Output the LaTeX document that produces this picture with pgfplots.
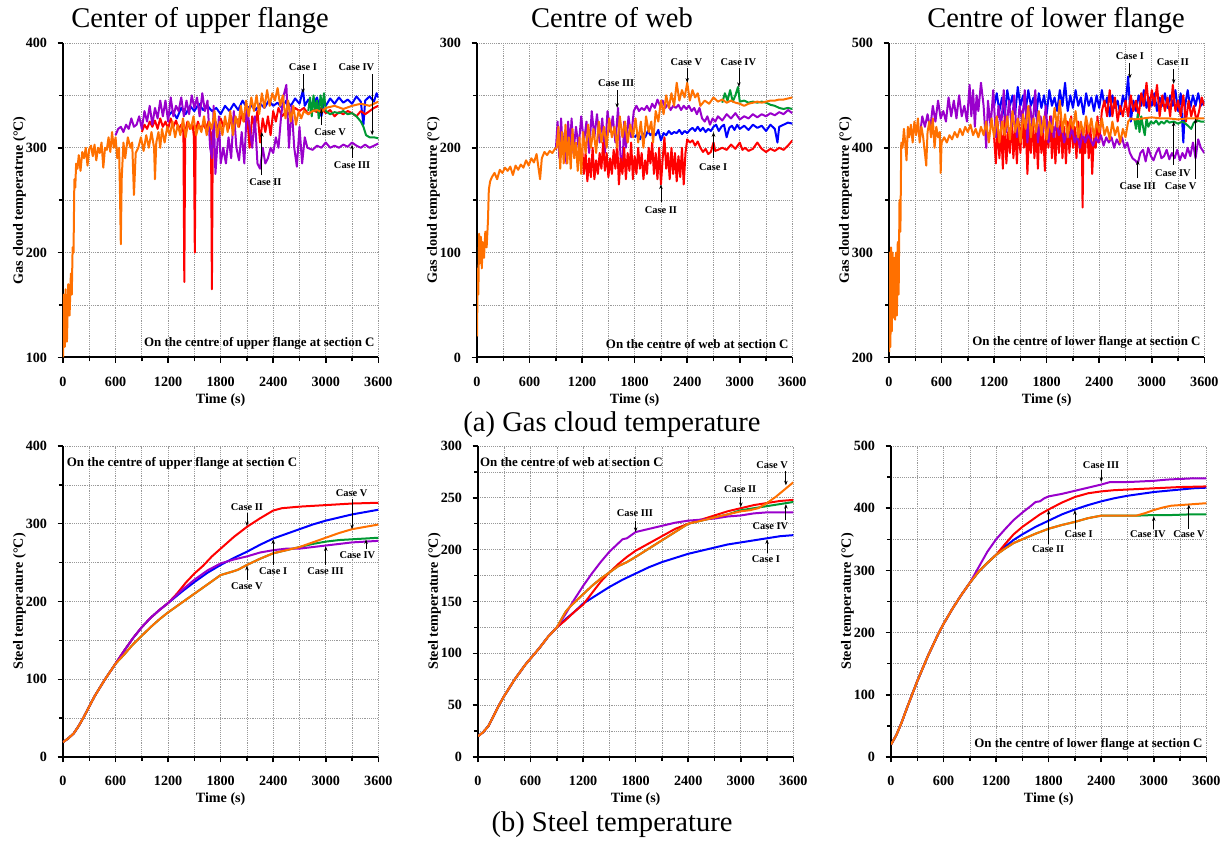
\documentclass[border=0pt]{standalone}
\usepackage{fontspec}
\setmainfont{Liberation Serif}
\usepackage{pgfplots}
\pgfplotsset{compat=1.18}
\usetikzlibrary{arrows.meta}
\definecolor{cI}{RGB}{0,0,255}
\definecolor{cII}{RGB}{255,0,0}
\definecolor{cIII}{RGB}{153,0,204}
\definecolor{cIV}{RGB}{0,153,51}
\definecolor{cV}{RGB}{255,112,0}
\pgfplotsset{
 panel/.style={
   scale only axis, width=236.5pt,
   xmin=0,xmax=3600, xtick={0,600,...,3600}, minor xtick={300,900,...,3300},
   axis x line=bottom, axis y line=left,
   axis line style={-, line width=1.5pt},
   tick align=outside, major tick length=4pt, minor tick length=3pt,
   every tick/.style={black, line width=1.1pt},
   grid=both,
   major grid style={densely dotted, gray!80, line width=0.5pt},
   minor grid style={densely dotted, gray!80, line width=0.5pt},
   /pgf/number format/assume math mode=true,
   /pgf/number format/1000 sep={},
   ticklabel style={font=\bfseries\fontsize{10.6}{12}\selectfont},
   xticklabel style={yshift=-7pt},
   yticklabel style={xshift=-4.5pt},
   label style={font=\bfseries\fontsize{10.6}{12}\selectfont},
   xlabel={Time (s)},
   xlabel style={yshift=1.5pt},
   ylabel style={yshift=-7pt},
   every axis plot/.append style={line width=1.5pt, line join=round},
 },
}
\tikzset{
 arr/.style={-{Stealth[length=3.5pt,width=2.6pt]}, line width=0.6pt, black},
 ann/.style={font=\bfseries\fontsize{7.8}{9}\selectfont, inner sep=0.5pt},
 note/.style={font=\bfseries\fontsize{9.7}{11}\selectfont, inner sep=0pt},
}
\begin{document}
\begin{tikzpicture}
\path[use as bounding box] (0,0) rectangle (921pt,631.5pt);
% titles
\node[anchor=base, font=\fontsize{21.4}{24}\selectfont, inner sep=0pt] at (150pt,610.5pt) {Center of upper flange};
\node[anchor=base, font=\fontsize{21.4}{24}\selectfont, inner sep=0pt] at (459pt,610.5pt) {Centre of web};
\node[anchor=base, font=\fontsize{21.4}{24}\selectfont, inner sep=0pt] at (792pt,610.5pt) {Centre of lower flange};
\node[anchor=base, font=\fontsize{21.4}{24}\selectfont, inner sep=0pt] at (459pt,307.5pt) {(a) Gas cloud temperature};
\node[anchor=base, font=\fontsize{21.4}{24}\selectfont, inner sep=0pt] at (459pt,7.5pt) {(b) Steel temperature};

% ================= Panel 1 =================
\begin{axis}[panel, at={(47.25pt,363.4pt)}, anchor=south west, height=235.9pt,
  ymin=100, ymax=400, ytick={100,200,300,400}, minor ytick={150,250,350},
  ylabel={Gas cloud temperatrue (°C)}]
\addplot[cI] coordinates {(1200,330) (1250,335) (1300,328) (1350,338) (1400,332) (1450,340) (1500,335) (1550,342) (1600,336) (1650,340) (1700,335) (1750,338) (1800,332) (1850,340) (1900,335) (1950,342) (2000,336) (2050,345) (2100,338) (2150,340) (2200,336) (2250,342) (2300,338) (2350,345) (2400,340) (2450,343) (2500,338) (2550,345) (2600,340) (2650,347) (2700,342) (2740,355) (2760,340) (2800,346) (2850,340) (2900,348) (2950,330) (2980,345) (3000,340) (3050,347) (3100,342) (3150,348) (3200,343) (3250,346) (3300,342) (3350,349) (3400,344) (3430,322) (3450,345) (3500,349) (3550,344) (3580,352) (3600,348)};
\addplot[cII] coordinates {(900,315) (930,322) (960,318) (990,325) (1020,320) (1050,326) (1080,318) (1110,328) (1140,320) (1170,325) (1200,318) (1230,328) (1260,320) (1290,326) (1320,318) (1350,322) (1375,315) (1385,172) (1395,315) (1420,325) (1450,318) (1480,322) (1495,310) (1505,200) (1515,315) (1540,325) (1570,318) (1600,322) (1630,318) (1660,325) (1690,312) (1700,165) (1710,315) (1740,325) (1770,318) (1800,328) (1830,320) (1860,325) (1890,318) (1920,330) (1950,318) (1980,328) (2010,320) (2040,332) (2070,325) (2100,335) (2130,300) (2160,330) (2190,320) (2220,335) (2250,305) (2280,328) (2310,315) (2340,330) (2370,312) (2400,335) (2430,325) (2460,338) (2500,330) (2550,335) (2600,330) (2650,338) (2700,335) (2750,338) (2800,332) (2850,336) (2900,334) (2950,338) (3000,333) (3050,336) (3100,330) (3150,334) (3200,332) (3250,335) (3300,333) (3350,330) (3400,335) (3450,332) (3500,335) (3550,338) (3600,340)};
\addplot[cIV] coordinates {(2800,335) (2820,348) (2840,330) (2860,350) (2880,335) (2900,345) (2920,328) (2940,350) (2960,338) (2980,352) (3000,335) (3050,332) (3100,334) (3150,333) (3200,335) (3250,332) (3300,333) (3350,330) (3400,325) (3430,320) (3460,312) (3500,310) (3550,310) (3600,309)};
\addplot[cIII] coordinates {(600,312) (630,318) (660,320) (690,315) (720,322) (750,318) (780,328) (810,320) (840,322) (870,330) (900,318) (930,335) (960,325) (990,340) (1020,322) (1050,338) (1080,328) (1110,345) (1140,330) (1170,345) (1200,325) (1230,348) (1260,330) (1290,340) (1320,335) (1350,348) (1380,330) (1410,345) (1440,332) (1470,350) (1500,338) (1530,348) (1560,330) (1590,352) (1620,335) (1650,345) (1680,300) (1700,290) (1720,340) (1740,275) (1760,300) (1780,330) (1800,285) (1830,300) (1860,285) (1890,310) (1920,290) (1950,335) (1980,300) (2010,288) (2040,315) (2070,285) (2100,340) (2130,320) (2160,300) (2190,330) (2220,285) (2250,280) (2280,300) (2310,285) (2340,290) (2370,300) (2400,295) (2430,310) (2460,300) (2490,330) (2520,350) (2550,360) (2580,300) (2610,340) (2640,300) (2670,282) (2700,320) (2730,285) (2760,310) (2790,300) (2850,298) (2900,302) (2950,300) (3000,305) (3050,300) (3100,302) (3150,300) (3200,303) (3250,301) (3300,305) (3350,302) (3400,300) (3450,303) (3500,300) (3550,302) (3600,304)};
\addplot[cV] coordinates {(0,100) (10,160) (20,110) (30,165) (45,115) (60,170) (75,140) (90,180) (100,160) (110,205) (120,200) (130,270) (140,262) (150,285) (165,280) (180,293) (200,278) (220,296) (240,290) (260,300) (280,283) (300,299) (320,302) (340,292) (360,303) (380,288) (400,300) (420,295) (440,305) (460,281) (480,300) (500,298) (520,310) (540,296) (560,315) (580,300) (600,310) (620,290) (640,300) (650,260) (660,208) (670,270) (690,305) (710,290) (740,310) (770,300) (790,305) (810,255) (830,295) (860,300) (890,310) (920,297) (950,312) (980,300) (1010,315) (1040,300) (1050,270) (1065,305) (1090,315) (1110,300) (1130,318) (1160,305) (1190,320) (1220,312) (1250,325) (1280,310) (1310,322) (1340,312) (1370,328) (1400,310) (1430,325) (1460,318) (1490,330) (1520,312) (1550,322) (1580,315) (1610,330) (1640,312) (1670,325) (1700,318) (1730,335) (1760,310) (1790,325) (1820,312) (1850,330) (1880,315) (1910,335) (1940,312) (1970,330) (2000,320) (2030,340) (2060,325) (2090,345) (2120,330) (2150,348) (2180,335) (2210,350) (2240,332) (2270,352) (2300,338) (2330,355) (2360,340) (2390,352) (2420,345) (2450,357) (2480,340) (2510,350) (2540,328) (2570,345) (2600,325) (2630,340) (2660,322) (2690,335) (2720,328) (2750,335) (2800,332) (2850,335) (2900,336) (2950,334) (3000,338) (3100,340) (3200,337) (3300,340) (3400,342) (3500,340) (3600,344)};
\node[ann] at (axis cs:2740,377) {Case I};
\draw[arr] (axis cs:2740,370) -- (axis cs:2740,352);
\node[ann] at (axis cs:3350,377) {Case IV};
\draw[arr] (axis cs:3530,370) -- (axis cs:3530,312);
\node[ann] at (axis cs:3050,315) {Case V};
\draw[arr] (axis cs:2950,322) -- (axis cs:2950,337);
\node[ann] at (axis cs:3300,283.5) {Case III};
\draw[arr] (axis cs:3300,290) -- (axis cs:3300,303);
\node[ann] at (axis cs:2310,267) {Case II};
\draw[arr] (axis cs:2270,274) -- (axis cs:2270,315);
\node[note, anchor=east] at (axis cs:3560,113.5) {On the centre of upper flange at section C};
\end{axis}

% ================= Panel 2 =================
\begin{axis}[panel, at={(357.75pt,363.4pt)}, anchor=south west, height=235.9pt,
  ymin=0, ymax=300, ytick={0,100,200,300}, minor ytick={50,150,250},
  ylabel={Gas cloud temperature (°C)}]
\addplot[cI] coordinates {(1800,210) (1830,213) (1860,208) (1890,214) (1920,210) (1950,216) (1980,212) (2010,215) (2040,212) (2070,217) (2100,207) (2130,214) (2160,212) (2190,216) (2220,213) (2250,215) (2280,214) (2310,217) (2340,213) (2370,216) (2400,214) (2430,217) (2460,219) (2490,216) (2520,220) (2550,216) (2580,219) (2610,215) (2640,218) (2670,216) (2700,220) (2730,222) (2760,216) (2790,220) (2820,222) (2850,210) (2880,219) (2910,221) (2940,217) (2970,222) (3000,218) (3050,221) (3100,217) (3150,222) (3200,219) (3250,221) (3300,216) (3350,222) (3400,218) (3430,205) (3450,220) (3500,222) (3550,224) (3600,223)};
\addplot[cIV] coordinates {(2800,243) (2830,252) (2860,245) (2890,255) (2920,244) (2950,250) (2980,258) (3000,244) (3050,245) (3100,243) (3150,244) (3200,243) (3250,244) (3300,243) (3350,241) (3400,240) (3450,238) (3500,237) (3550,238) (3600,237)};
\addplot[cIII] coordinates {(900,198) (920,225) (940,190) (960,228) (980,195) (1000,215) (1020,185) (1040,225) (1060,200) (1080,228) (1100,195) (1130,220) (1160,200) (1190,230) (1220,205) (1250,225) (1280,195) (1310,235) (1340,210) (1370,232) (1400,205) (1430,228) (1460,195) (1490,235) (1520,215) (1550,230) (1580,205) (1610,238) (1640,190) (1660,180) (1680,225) (1700,200) (1730,230) (1760,210) (1790,235) (1820,240) (1850,235) (1880,238) (1910,236) (1940,240) (1970,235) (2000,242) (2030,238) (2060,246) (2090,240) (2120,245) (2150,238) (2180,242) (2210,236) (2240,240) (2270,238) (2300,241) (2330,236) (2360,240) (2390,237) (2420,240) (2450,235) (2480,238) (2510,232) (2540,238) (2570,228) (2600,225) (2630,230) (2660,222) (2690,228) (2720,225) (2750,230) (2800,226) (2850,232) (2900,228) (2950,233) (3000,227) (3050,230) (3100,228) (3150,232) (3200,229) (3250,232) (3300,230) (3350,233) (3400,231) (3450,234) (3500,232) (3550,236) (3600,233)};
\addplot[cII] coordinates {(1200,200) (1220,175) (1240,195) (1260,168) (1280,190) (1300,172) (1320,200) (1340,170) (1360,188) (1380,175) (1400,195) (1420,180) (1440,205) (1460,178) (1480,195) (1500,172) (1520,190) (1540,175) (1560,198) (1580,180) (1600,205) (1620,165) (1640,190) (1660,175) (1680,200) (1700,170) (1720,195) (1740,178) (1760,205) (1780,170) (1800,192) (1820,175) (1840,200) (1860,180) (1880,195) (1900,170) (1920,188) (1940,175) (1960,200) (1980,185) (2000,205) (2020,175) (2040,195) (2060,170) (2080,200) (2100,165) (2120,190) (2140,210) (2160,180) (2180,195) (2200,170) (2220,200) (2240,175) (2260,195) (2280,168) (2300,192) (2320,172) (2340,200) (2360,165) (2380,195) (2400,208) (2430,205) (2460,207) (2490,202) (2520,206) (2550,200) (2580,196) (2610,199) (2640,194) (2670,196) (2700,205) (2720,197) (2750,198) (2800,200) (2850,198) (2900,203) (2950,199) (3000,205) (3030,198) (3060,200) (3100,197) (3150,199) (3200,205) (3250,199) (3300,196) (3350,199) (3400,197) (3450,200) (3500,198) (3550,202) (3600,207)};
\addplot[cV] coordinates {(0,20) (8,85) (15,60) (25,118) (35,90) (45,115) (55,85) (65,110) (80,95) (95,120) (110,105) (125,130) (135,160) (150,168) (170,172) (200,176) (230,170) (260,179) (290,176) (320,181) (350,178) (380,182) (410,174) (440,183) (470,179) (500,184) (530,181) (560,188) (590,183) (620,190) (650,186) (680,194) (700,182) (720,170) (740,190) (770,196) (800,193) (830,197) (860,195) (890,199) (910,200) (930,220) (950,180) (970,215) (990,185) (1010,222) (1030,185) (1050,210) (1070,180) (1090,218) (1110,190) (1130,205) (1150,178) (1170,210) (1190,175) (1210,215) (1240,195) (1270,222) (1300,200) (1330,218) (1360,195) (1390,225) (1420,205) (1450,220) (1480,200) (1510,228) (1540,210) (1570,220) (1600,200) (1630,230) (1660,210) (1690,225) (1720,205) (1750,222) (1780,210) (1810,228) (1840,205) (1870,225) (1900,200) (1930,230) (1960,215) (1990,225) (2010,205) (2040,235) (2070,225) (2100,245) (2130,232) (2160,250) (2190,238) (2220,252) (2250,240) (2280,262) (2310,245) (2340,255) (2370,248) (2400,262) (2430,245) (2460,255) (2490,248) (2520,252) (2550,240) (2600,245) (2650,242) (2700,248) (2750,244) (2800,246) (2850,243) (2900,245) (2950,243) (3000,242) (3050,240) (3100,242) (3150,243) (3200,244) (3250,243) (3300,244) (3350,245) (3400,245) (3450,246) (3500,246) (3550,247) (3600,248)};
\node[ann] at (axis cs:1589,262) {Case III};
\draw[arr] (axis cs:1600,255) -- (axis cs:1600,238);
\node[ann] at (axis cs:2390,282) {Case V};
\draw[arr] (axis cs:2400,276) -- (axis cs:2400,262);
\node[ann] at (axis cs:2983,282) {Case IV};
\draw[arr] (axis cs:2990,276) -- (axis cs:2990,258);
\node[ann] at (axis cs:2697,182) {Case I};
\draw[arr] (axis cs:2700,190) -- (axis cs:2700,215);
\node[ann] at (axis cs:2100,141) {Case II};
\draw[arr] (axis cs:2100,148) -- (axis cs:2100,165);
\node[note, anchor=east] at (axis cs:3560,12.4) {On the centre of web at section C};
\end{axis}

% ================= Panel 3 =================
\begin{axis}[panel, at={(666.75pt,363.4pt)}, anchor=south west, height=235.9pt,
  ymin=200, ymax=500, ytick={200,300,400,500}, minor ytick={250,350,450},
  ylabel={Gas cloud temperature (°C)}]
\addplot[cI] coordinates {(1200,440) (1230,452) (1260,435) (1290,448) (1320,430) (1350,455) (1380,440) (1410,450) (1440,432) (1470,458) (1500,440) (1530,450) (1560,435) (1590,455) (1620,440) (1650,448) (1680,430) (1710,452) (1740,438) (1770,450) (1800,432) (1830,455) (1860,440) (1890,448) (1920,435) (1950,455) (1980,440) (2010,462) (2040,435) (2070,450) (2100,438) (2130,455) (2160,440) (2190,448) (2220,432) (2250,452) (2280,440) (2310,448) (2340,435) (2370,450) (2400,438) (2430,455) (2460,440) (2490,448) (2520,430) (2550,450) (2580,438) (2610,445) (2640,432) (2670,450) (2700,440) (2730,468) (2760,425) (2790,445) (2820,435) (2850,450) (2880,440) (2910,455) (2940,438) (2970,448) (3000,440) (3030,452) (3060,435) (3090,448) (3120,440) (3150,452) (3180,438) (3210,450) (3240,440) (3270,455) (3300,435) (3330,452) (3360,405) (3380,440) (3410,455) (3440,438) (3470,450) (3500,440) (3530,452) (3560,440) (3600,445)};
\addplot[cII] coordinates {(1200,410) (1220,385) (1240,425) (1260,390) (1280,420) (1300,380) (1320,430) (1340,385) (1360,415) (1380,395) (1400,430) (1420,390) (1440,420) (1460,385) (1480,425) (1500,395) (1520,435) (1540,400) (1560,425) (1580,375) (1600,420) (1620,395) (1640,430) (1660,390) (1680,420) (1700,380) (1720,425) (1740,395) (1760,415) (1780,378) (1800,425) (1820,400) (1840,430) (1860,390) (1880,420) (1900,385) (1920,425) (1940,395) (1960,430) (1980,390) (2000,420) (2020,385) (2040,425) (2060,395) (2080,430) (2100,400) (2120,420) (2140,390) (2160,425) (2180,395) (2200,420) (2210,343) (2220,410) (2240,395) (2260,425) (2280,390) (2300,420) (2320,375) (2340,415) (2360,400) (2380,430) (2400,405) (2430,435) (2460,445) (2490,430) (2520,455) (2550,430) (2580,448) (2610,425) (2640,440) (2670,430) (2700,445) (2730,430) (2760,450) (2790,435) (2820,445) (2850,430) (2880,452) (2910,440) (2940,462) (2970,435) (3000,455) (3030,440) (3060,460) (3090,430) (3120,450) (3150,435) (3180,448) (3210,430) (3240,460) (3270,435) (3300,445) (3330,430) (3360,450) (3390,425) (3420,445) (3450,430) (3480,440) (3510,425) (3540,435) (3570,448) (3600,440)};
\addplot[cIV] coordinates {(2800,428) (2820,418) (2840,432) (2860,415) (2880,430) (2900,420) (2920,412) (2940,428) (2960,420) (2990,425) (3020,423) (3050,426) (3080,422) (3110,425) (3140,423) (3170,426) (3200,424) (3250,425) (3300,423) (3350,425) (3400,422) (3450,418) (3480,424) (3520,426) (3560,425) (3600,425)};
\addplot[cIII] coordinates {(350,410) (380,430) (410,420) (440,432) (470,418) (500,440) (530,425) (560,445) (590,428) (620,435) (650,425) (680,448) (710,430) (740,445) (770,428) (800,450) (830,430) (860,440) (890,425) (920,460) (940,430) (960,455) (980,420) (1000,450) (1020,435) (1050,462) (1080,440) (1110,400) (1130,445) (1160,420) (1190,455) (1220,410) (1250,440) (1280,420) (1310,455) (1340,415) (1370,445) (1400,420) (1430,450) (1460,410) (1490,440) (1520,425) (1550,455) (1580,405) (1610,440) (1640,420) (1670,455) (1700,405) (1730,430) (1760,415) (1790,440) (1820,405) (1850,430) (1880,410) (1910,425) (1940,412) (1970,420) (2000,405) (2030,415) (2060,410) (2090,418) (2120,405) (2150,412) (2180,400) (2210,415) (2240,405) (2270,412) (2300,408) (2330,402) (2360,410) (2390,405) (2420,412) (2450,402) (2480,410) (2510,405) (2540,410) (2570,400) (2600,408) (2630,403) (2660,410) (2690,400) (2720,405) (2750,395) (2780,390) (2810,388) (2840,385) (2870,395) (2900,398) (2930,387) (2960,400) (2990,392) (3020,388) (3050,395) (3080,400) (3110,390) (3140,392) (3170,398) (3200,389) (3230,395) (3260,390) (3290,398) (3320,388) (3350,395) (3380,390) (3410,400) (3440,392) (3470,405) (3500,390) (3530,408) (3560,400) (3600,395)};
\addplot[cV] coordinates {(0,205) (8,300) (16,210) (24,305) (32,225) (40,300) (50,238) (60,295) (70,236) (80,300) (90,240) (100,310) (110,260) (120,350) (130,320) (140,405) (155,400) (170,418) (185,405) (200,388) (215,420) (230,410) (250,422) (270,405) (290,425) (310,412) (330,428) (350,405) (370,420) (390,410) (410,395) (425,383) (440,415) (460,425) (480,410) (500,428) (520,400) (540,420) (560,410) (580,415) (590,376) (600,405) (630,410) (660,405) (690,412) (720,408) (750,415) (780,410) (810,418) (840,412) (870,420) (900,415) (930,422) (960,412) (990,418) (1020,410) (1050,420) (1080,412) (1110,425) (1140,405) (1170,428) (1200,410) (1230,430) (1260,405) (1290,425) (1320,412) (1350,430) (1380,408) (1410,435) (1440,415) (1470,428) (1500,405) (1530,432) (1560,418) (1590,440) (1620,410) (1650,428) (1680,415) (1710,435) (1740,412) (1770,430) (1800,408) (1830,425) (1860,415) (1890,438) (1920,420) (1950,445) (1980,415) (2010,432) (2040,410) (2070,428) (2100,418) (2130,435) (2160,410) (2190,425) (2220,412) (2250,430) (2280,415) (2310,428) (2340,410) (2370,425) (2400,415) (2430,428) (2460,412) (2490,420) (2520,408) (2550,425) (2580,412) (2610,420) (2640,405) (2670,418) (2700,410) (2730,425) (2760,428) (2800,427) (2900,428) (3000,429) (3100,428) (3200,428) (3300,427) (3400,428) (3500,428) (3600,428)};
\node[ann] at (axis cs:2750,487.6) {Case I};
\draw[arr] (axis cs:2750,481) -- (axis cs:2750,466);
\node[ann] at (axis cs:3240,482) {Case II};
\draw[arr] (axis cs:3250,475) -- (axis cs:3250,461);
\node[ann] at (axis cs:2840,363) {Case III};
\draw[arr] (axis cs:2840,371) -- (axis cs:2840,388);
\node[ann] at (axis cs:3240,376) {Case IV};
\draw[arr] (axis cs:3250,384) -- (axis cs:3250,425);
\node[ann] at (axis cs:3330,363) {Case V};
\draw[arr] (axis cs:3500,370) -- (axis cs:3500,428);
\node[note, anchor=east] at (axis cs:3560,214) {On the centre of lower flange at section C};
\end{axis}

% ================= Panel 4 =================
\begin{axis}[panel, at={(47.25pt,63.75pt)}, anchor=south west, height=233.25pt,
  ymin=0, ymax=400, ytick={0,100,200,300,400}, minor ytick={50,150,250,350},
  ylabel={Steel temperature (°C)}]
\addplot[cI] coordinates {(0,19) (60,24) (120,30) (180,40) (240,52) (300,65) (360,78) (420,89) (480,100) (540,110) (600,120) (700,137) (800,153) (900,167) (1000,179) (1100,189) (1200,198) (1350,212) (1500,225) (1650,237) (1800,247) (1950,256) (2100,264) (2250,273) (2400,281) (2550,287) (2700,293) (2850,299) (3000,304) (3150,308) (3300,312) (3450,315) (3600,318)};
\addplot[cII] coordinates {(0,19) (60,24) (120,30) (180,40) (240,52) (300,65) (360,78) (420,89) (480,100) (540,110) (600,120) (700,137) (800,153) (900,167) (1000,179) (1100,189) (1200,198) (1300,210) (1400,224) (1500,236) (1600,246) (1700,258) (1800,268) (1950,283) (2100,296) (2250,307) (2400,317) (2500,320) (2700,322) (3000,324) (3300,326) (3600,327)};
\addplot[cIV] coordinates {(0,19) (60,24) (120,30) (180,40) (240,52) (300,65) (360,78) (420,89) (480,100) (540,110) (600,120) (650,126) (700,132) (800,145) (900,156) (1000,167) (1100,177) (1200,186) (1350,198) (1500,210) (1650,222) (1800,234) (1950,239) (2000,241) (2100,247) (2250,255) (2400,262) (2550,266) (2700,270) (2850,274) (3000,277) (3150,279) (3300,280) (3450,281) (3600,282)};
\addplot[cIII] coordinates {(0,19) (60,24) (120,30) (180,40) (240,52) (300,65) (360,78) (420,89) (480,100) (540,110) (600,120) (700,137) (800,153) (900,167) (1000,179) (1100,189) (1200,198) (1350,214) (1500,228) (1650,240) (1800,249) (1950,254) (2100,258) (2250,263) (2400,266) (2550,268) (2700,268) (2850,270) (3000,272) (3150,274) (3300,276) (3450,277) (3600,278)};
\addplot[cV] coordinates {(0,19) (60,24) (120,30) (180,40) (240,52) (300,65) (360,78) (420,89) (480,100) (540,110) (600,120) (650,126) (700,132) (800,145) (900,156) (1000,167) (1100,177) (1200,186) (1350,198) (1500,210) (1650,222) (1800,234) (1950,239) (2000,241) (2100,247) (2250,255) (2400,262) (2550,266) (2700,270) (2850,276) (3000,282) (3150,288) (3300,293) (3450,296) (3600,299)};
\node[ann] at (axis cs:2100,322) {Case II};
\draw[arr] (axis cs:2100,314) -- (axis cs:2100,297);
\node[ann] at (axis cs:3295,339) {Case V};
\draw[arr] (axis cs:3300,332) -- (axis cs:3300,293);
\node[ann] at (axis cs:2398,239) {Case I};
\draw[arr] (axis cs:2400,247) -- (axis cs:2400,280);
\node[ann] at (axis cs:2100,220) {Case V};
\draw[arr] (axis cs:2100,228) -- (axis cs:2100,246);
\node[ann] at (axis cs:2997,239) {Case III};
\draw[arr] (axis cs:3000,247) -- (axis cs:3000,271);
\node[ann] at (axis cs:3360,260) {Case IV};
\draw[arr] (axis cs:3460,268) -- (axis cs:3460,280);
\node[note, anchor=west] at (axis cs:40,378) {On the centre of upper flange at section C};
\end{axis}

% ================= Panel 5 =================
\begin{axis}[panel, at={(358.5pt,63.75pt)}, anchor=south west, height=233.25pt,
  ymin=0, ymax=300, ytick={0,50,...,300}, minor ytick={25,75,...,275},
  ylabel={Steel temperature (°C)}]
\addplot[cI] coordinates {(0,20) (60,24) (120,30) (180,40) (240,50) (300,59) (360,67) (420,75) (480,82) (540,89) (600,95) (700,105) (800,116) (900,125) (1000,133) (1100,140) (1200,148) (1350,156) (1500,164) (1650,171) (1800,177) (1950,183) (2100,188) (2250,192) (2400,196) (2550,199) (2700,202) (2850,205) (3000,207) (3150,209) (3300,211) (3450,213) (3600,214)};
\addplot[cII] coordinates {(0,20) (60,24) (120,30) (180,40) (240,50) (300,59) (360,67) (420,75) (480,82) (540,89) (600,95) (700,105) (800,116) (900,125) (1000,132) (1100,140) (1200,147) (1300,158) (1400,169) (1500,178) (1600,186) (1700,193) (1800,199) (1950,206) (2100,213) (2250,220) (2400,225) (2550,229) (2700,233) (2850,237) (3000,240) (3150,243) (3300,245) (3450,247) (3600,248)};
\addplot[cIV] coordinates {(0,20) (60,24) (120,30) (180,40) (240,50) (300,59) (360,67) (420,75) (480,82) (540,89) (600,95) (700,105) (800,116) (900,125) (1000,140) (1050,145) (1100,149) (1200,157) (1300,165) (1400,172) (1500,178) (1600,184) (1700,188) (1800,193) (1950,201) (2100,209) (2250,217) (2400,225) (2550,228) (2700,231) (2850,234) (3000,238) (3150,240) (3300,242) (3450,244) (3600,246)};
\addplot[cIII] coordinates {(0,20) (60,24) (120,30) (180,40) (240,50) (300,59) (360,67) (420,75) (480,82) (540,89) (600,95) (700,105) (800,116) (900,125) (1000,138) (1100,152) (1200,165) (1300,177) (1400,188) (1500,198) (1600,206) (1650,210) (1700,211) (1750,214) (1800,217) (1950,220) (2100,223) (2250,226) (2400,228) (2550,229) (2700,230) (2850,232) (3000,233) (3150,235) (3300,236) (3450,236) (3600,236)};
\addplot[cV] coordinates {(0,20) (60,24) (120,30) (180,40) (240,50) (300,59) (360,67) (420,75) (480,82) (540,89) (600,95) (700,105) (800,116) (900,125) (1000,140) (1050,145) (1100,149) (1200,157) (1300,165) (1400,172) (1500,178) (1600,184) (1700,188) (1800,193) (1950,201) (2100,209) (2250,217) (2400,225) (2550,228) (2700,231) (2850,234) (3000,237) (3100,238) (3200,240) (3300,245) (3400,251) (3500,258) (3600,265)};
\node[ann] at (axis cs:3358,282) {Case V};
\draw[arr] (axis cs:3515,276) -- (axis cs:3515,262);
\node[ann] at (axis cs:2993,258) {Case II};
\draw[arr] (axis cs:3000,251) -- (axis cs:3000,241);
\node[ann] at (axis cs:1792,235) {Case III};
\draw[arr] (axis cs:1800,228) -- (axis cs:1800,217);
\node[ann] at (axis cs:3339,223) {Case IV};
\draw[arr] (axis cs:3515,229) -- (axis cs:3515,244);
\node[ann] at (axis cs:3287,191) {Case I};
\draw[arr] (axis cs:3300,197) -- (axis cs:3300,210);
\node[note, anchor=west] at (axis cs:20,285) {On the centre of web at section C};
\end{axis}

% ================= Panel 6 =================
\begin{axis}[panel, at={(668.25pt,63.75pt)}, anchor=south west, height=233.25pt,
  ymin=0, ymax=500, ytick={0,100,...,500}, minor ytick={50,150,...,450},
  ylabel={Steel temperature (°C)}]
\addplot[cI] coordinates {(0,20) (60,35) (120,55) (180,78) (240,100) (300,122) (360,142) (420,162) (480,180) (540,198) (600,214) (700,238) (800,260) (900,280) (1000,298) (1100,312) (1200,325) (1300,338) (1400,349) (1500,358) (1650,370) (1800,380) (1950,390) (2100,398) (2250,405) (2400,411) (2550,416) (2700,420) (2850,423) (3000,426) (3150,428) (3300,430) (3450,432) (3600,433)};
\addplot[cII] coordinates {(0,20) (60,35) (120,55) (180,78) (240,100) (300,122) (360,142) (420,162) (480,180) (540,198) (600,214) (700,238) (800,260) (900,280) (1000,298) (1100,312) (1200,325) (1300,342) (1400,358) (1500,370) (1600,380) (1700,390) (1800,398) (1950,409) (2100,418) (2250,424) (2400,427) (2550,429) (2700,430) (3000,432) (3300,434) (3600,435)};
\addplot[cIV] coordinates {(0,20) (60,35) (120,55) (180,78) (240,100) (300,122) (360,142) (420,162) (480,180) (540,198) (600,214) (700,238) (800,260) (900,280) (1000,298) (1100,312) (1200,325) (1300,335) (1400,344) (1500,350) (1650,359) (1800,367) (1950,373) (2100,378) (2250,384) (2400,388) (2600,388) (2800,388) (3000,389) (3200,389) (3400,390) (3600,390)};
\addplot[cIII] coordinates {(0,20) (60,35) (120,55) (180,78) (240,100) (300,122) (360,142) (420,162) (480,180) (540,198) (600,214) (700,238) (800,260) (900,280) (1000,305) (1100,330) (1200,350) (1300,366) (1400,381) (1500,393) (1600,404) (1650,410) (1700,411) (1750,416) (1800,419) (1950,423) (2100,428) (2250,433) (2400,438) (2500,442) (2700,442) (2850,443) (3000,444) (3150,446) (3300,447) (3450,448) (3600,448)};
\addplot[cV] coordinates {(0,20) (60,35) (120,55) (180,78) (240,100) (300,122) (360,142) (420,162) (480,180) (540,198) (600,214) (700,238) (800,260) (900,280) (1000,298) (1100,312) (1200,325) (1300,335) (1400,344) (1500,350) (1650,359) (1800,367) (1950,373) (2100,378) (2250,384) (2400,388) (2600,388) (2800,388) (2900,392) (3000,397) (3100,401) (3200,404) (3300,405) (3400,406) (3500,407) (3600,408)};
\node[ann] at (axis cs:2398,469) {Case III};
\draw[arr] (axis cs:2400,461) -- (axis cs:2400,442);
\node[ann] at (axis cs:1795,334) {Case II};
\draw[arr] (axis cs:1800,342) -- (axis cs:1800,397);
\node[ann] at (axis cs:2142,359) {Case I};
\draw[arr] (axis cs:2100,367) -- (axis cs:2100,397);
\node[ann] at (axis cs:2932,359) {Case IV};
\draw[arr] (axis cs:3000,367) -- (axis cs:3000,387);
\node[ann] at (axis cs:3402,359) {Case V};
\draw[arr] (axis cs:3400,367) -- (axis cs:3400,406);
\node[note, anchor=east] at (axis cs:3560,21) {On the centre of lower flange at section C};
\end{axis}
\end{tikzpicture}
\end{document}
